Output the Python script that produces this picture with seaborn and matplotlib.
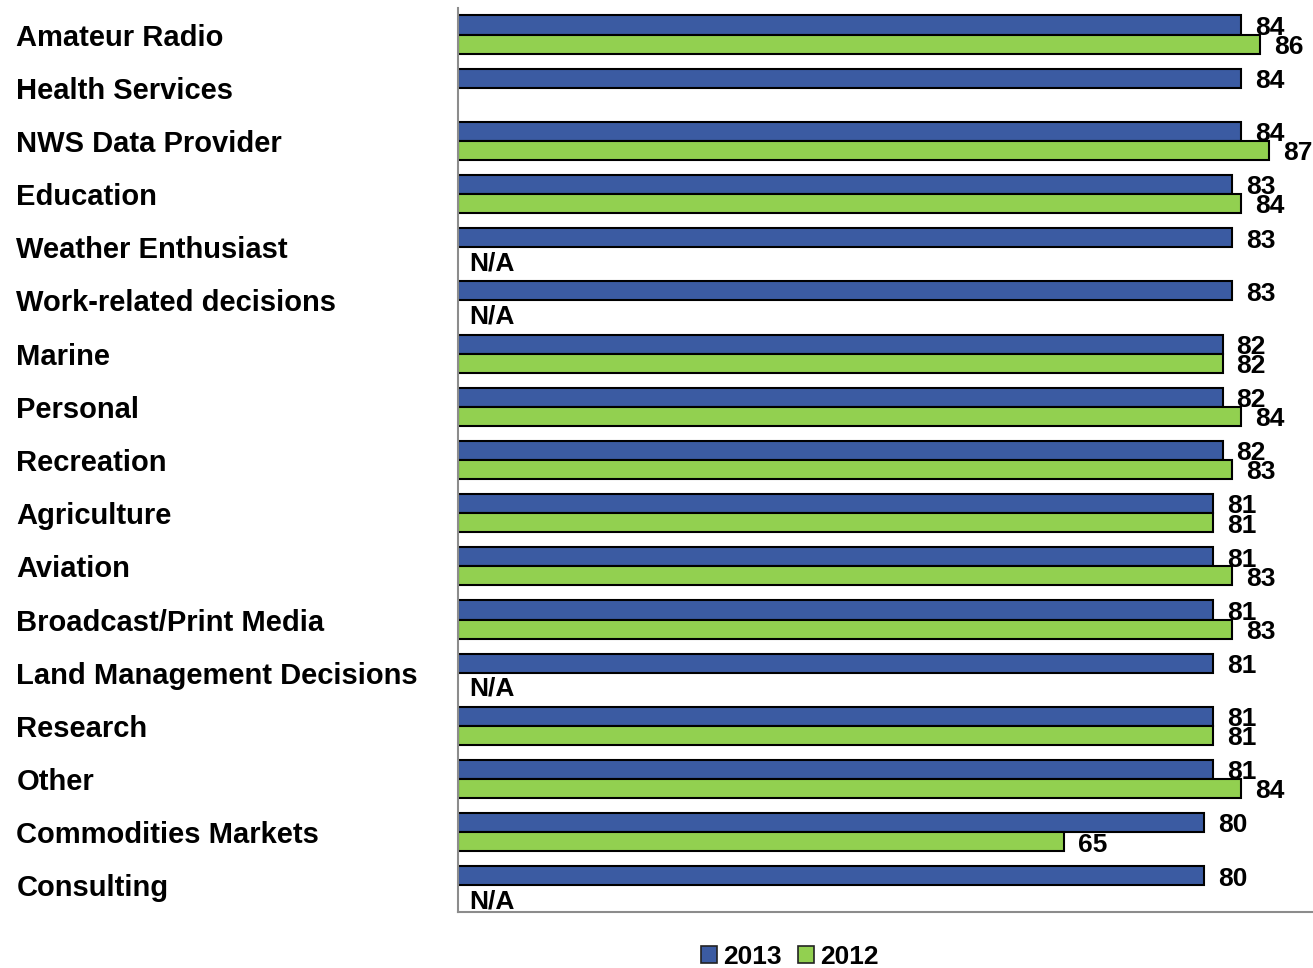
import numpy as np
import pandas as pd
import matplotlib
matplotlib.use("Agg")
import matplotlib.pyplot as plt
import seaborn as sns
from matplotlib.patches import Patch

categories = ["Amateur Radio", "Health Services", "NWS Data Provider", "Education",
              "Weather Enthusiast", "Work-related decisions", "Marine", "Personal",
              "Recreation", "Agriculture", "Aviation", "Broadcast/Print Media",
              "Land Management Decisions", "Research", "Other", "Commodities Markets",
              "Consulting"]
values_2013 = [84, 84, 84, 83, 83, 83, 82, 82, 82, 81, 81, 81, 81, 81, 81, 80, 80]
values_2012 = [86, None, 87, 84, None, None, 82, 84, 83, 81, 83, 83, None, 81, 84, 65, None]
na_categories = ["Weather Enthusiast", "Work-related decisions", "Land Management Decisions", "Consulting"]
years = ["2013", "2012"]
colors = {"2013": "#3B5BA2", "2012": "#92D050"}

sns.set_theme(style="white")
plt.rcParams["font.family"] = ["Liberation Sans", "DejaVu Sans"]
plt.rcParams["font.weight"] = "bold"
plt.rcParams["text.color"] = "black"
plt.rcParams["ytick.color"] = "black"

rows = []
for c, v13, v12 in zip(categories, values_2013, values_2012):
    rows.append({"category": c, "year": "2013", "value": v13})
    rows.append({"category": c, "year": "2012", "value": np.nan if v12 is None else v12})
df = pd.DataFrame(rows)

fig = plt.figure(figsize=(13.13, 9.68), dpi=100)
ax = fig.add_axes([458 / 1313, 1 - 912 / 968, 1 - 458 / 1313, (912 - 8) / 968])

sns.barplot(data=df, y="category", x="value", hue="year", hue_order=years,
            order=categories, orient="h", palette=colors, width=0.72,
            saturation=1, edgecolor="black", linewidth=1.5, ax=ax, legend=False,
            errorbar=None)

ax.set_xlim(0, 91.7)
ax.set_xticks([])
ax.set_xlabel("")
ax.set_ylabel("")

for cont in ax.containers:
    anns = ax.bar_label(cont, fmt="%d", padding=10, fontsize=19, fontweight="bold", color="black")
    for a in anns:
        a.xyann = (10, -2)

idx = {c: i for i, c in enumerate(categories)}
for c in na_categories:
    ax.text(1.2, idx[c] + 0.3, "N/A", fontsize=19, fontweight="bold",
            va="center", ha="left", color="black")

ax.tick_params(axis="y", length=0, pad=318, labelsize=21, labelcolor="black")
for lab in ax.get_yticklabels():
    lab.set_horizontalalignment("left")
    lab.set_fontweight("bold")

for s in ["top", "right"]:
    ax.spines[s].set_visible(False)
for s in ["left", "bottom"]:
    ax.spines[s].set_color("#8C8C8C")
    ax.spines[s].set_linewidth(1.5)

handles = [Patch(facecolor=colors[y], edgecolor="#222222", linewidth=1.2, label=y) for y in years]
fig.legend(handles=handles, loc="center", bbox_to_anchor=(790 / 1313, 1 - 957 / 968),
           ncol=2, frameon=False, handlelength=0.6, handleheight=0.6,
           handletextpad=0.25, columnspacing=0.6, prop={"weight": "bold", "size": 19})

fig.savefig("out.png", dpi=100)
